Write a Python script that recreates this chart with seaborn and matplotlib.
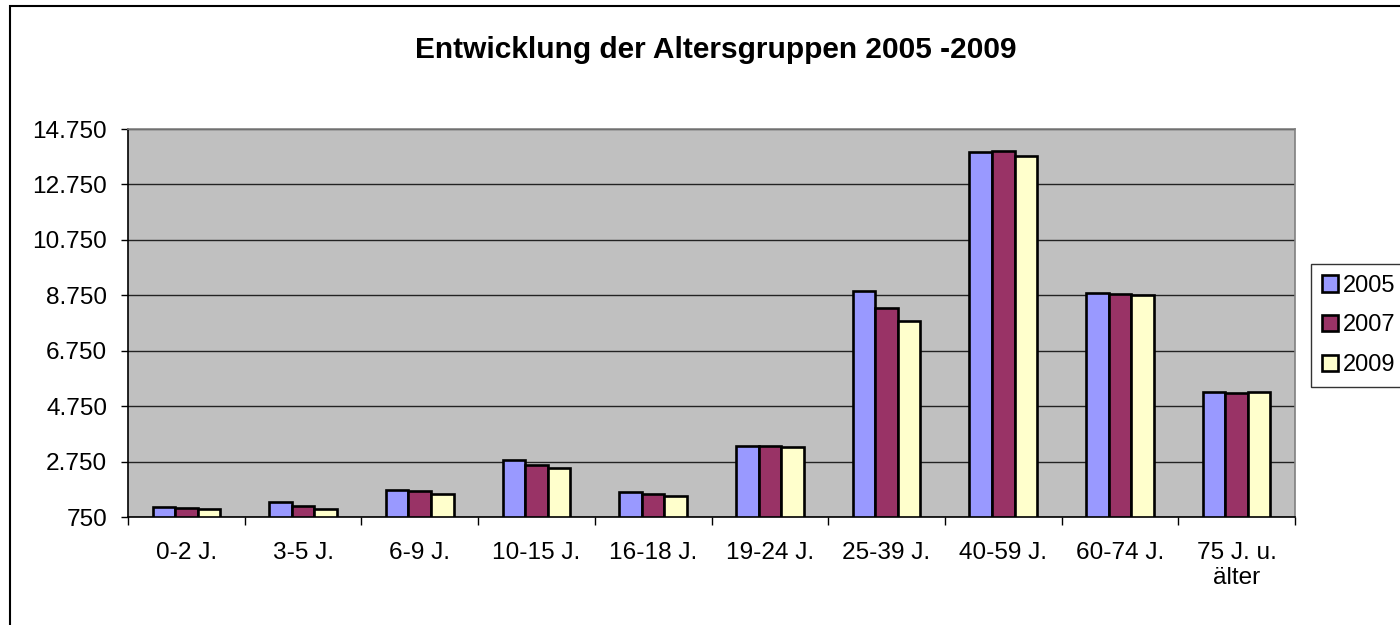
import numpy as np
import pandas as pd
import matplotlib
matplotlib.use('Agg')
import matplotlib.pyplot as plt
import matplotlib.ticker as mticker
from matplotlib.patches import Rectangle
import seaborn as sns

# Data
age_groups = ['0-2 J.', '3-5 J.', '6-9 J.', '10-15 J.', '16-18 J.', '19-24 J.',
              '25-39 J.', '40-59 J.', '60-74 J.', '75 J. u.\nälter']
years = ['2005', '2007', '2009']
values_2005 = [1110, 1280, 1736, 2797, 1663, 3324, 8910, 13927, 8837, 5263]
values_2007 = [1064, 1136, 1678, 2627, 1590, 3312, 8306, 13963, 8800, 5227]
values_2009 = [1050, 1040, 1580, 2530, 1497, 3266, 7837, 13793, 8776, 5250]
y_ticks = [750, 2750, 4750, 6750, 8750, 10750, 12750, 14750]
bar_colors = ['#9999FF', '#993366', '#FFFFCC']

df = pd.DataFrame({
    'age': age_groups * 3,
    'year': np.repeat(years, len(age_groups)),
    'value': values_2005 + values_2007 + values_2009,
})

sns.set_style('white')
plt.rcParams['font.family'] = ['Liberation Sans', 'DejaVu Sans']
plt.rcParams['text.color'] = 'black'
plt.rcParams['xtick.color'] = 'black'
plt.rcParams['ytick.color'] = 'black'
plt.rcParams['xtick.labelcolor'] = 'black'
plt.rcParams['ytick.labelcolor'] = 'black'

fig = plt.figure(figsize=(14, 6.25), dpi=100)
ax = fig.add_axes([128 / 1400, 1 - 517 / 625, (1295 - 128) / 1400, (517 - 129) / 625])
ax.set_facecolor('#C0C0C0')
ax.set_axisbelow(True)

sns.barplot(data=df, x='age', y='value', hue='year', hue_order=years,
            order=age_groups, palette=bar_colors, width=0.58, gap=0,
            edgecolor='black', linewidth=1.9, saturation=1, ax=ax)

ax.set_ylim(750, 14750)
ax.set_xlim(-0.5, len(age_groups) - 0.5)
ax.set_yticks(y_ticks)
ax.yaxis.set_major_formatter(mticker.FuncFormatter(lambda v, p: f'{v:,.0f}'.replace(',', '.')))
ax.yaxis.grid(True, color='#222222', linewidth=1)
ax.set_xlabel('')
ax.set_ylabel('')

ax.tick_params(axis='y', direction='out', length=5, width=1, color='black', pad=10, labelsize=17.6)
ax.tick_params(axis='x', which='major', length=0, pad=18, labelsize=17.6)
ax.set_xticks(np.arange(-0.5, len(age_groups), 1), minor=True)
ax.tick_params(axis='x', which='minor', direction='out', length=6, width=1, color='black')
ax.tick_params(axis='both', left=True, bottom=True)
ax.tick_params(axis='x', which='minor', bottom=True)

for side in ['left', 'bottom']:
    ax.spines[side].set_color('black')
    ax.spines[side].set_linewidth(1.2)
for side in ['top', 'right']:
    ax.spines[side].set_visible(True)
    ax.spines[side].set_color('#808080')
    ax.spines[side].set_linewidth(1.2)

handles, labels = ax.get_legend_handles_labels()
ax.legend(handles, labels, loc='upper left', bbox_to_anchor=(1311 / 1400, 1 - 264 / 625),
          bbox_transform=fig.transFigure, fontsize=17, frameon=True, fancybox=False,
          edgecolor='black', handlelength=0.7, handleheight=0.7, handletextpad=0.2,
          labelspacing=0.75, borderpad=0.45, borderaxespad=0)

fig.text(716 / 1400, 1 - 50 / 625, 'Entwicklung der Altersgruppen 2005 -2009',
         ha='center', va='center', fontsize=21.5, fontweight='bold')

fig.patches.append(Rectangle((10 / 1400, -0.1), 1.2, 1.1 - 6 / 625, transform=fig.transFigure,
                             fill=False, edgecolor='black', linewidth=1.5))

fig.savefig('out.png', dpi=100, facecolor='white')
